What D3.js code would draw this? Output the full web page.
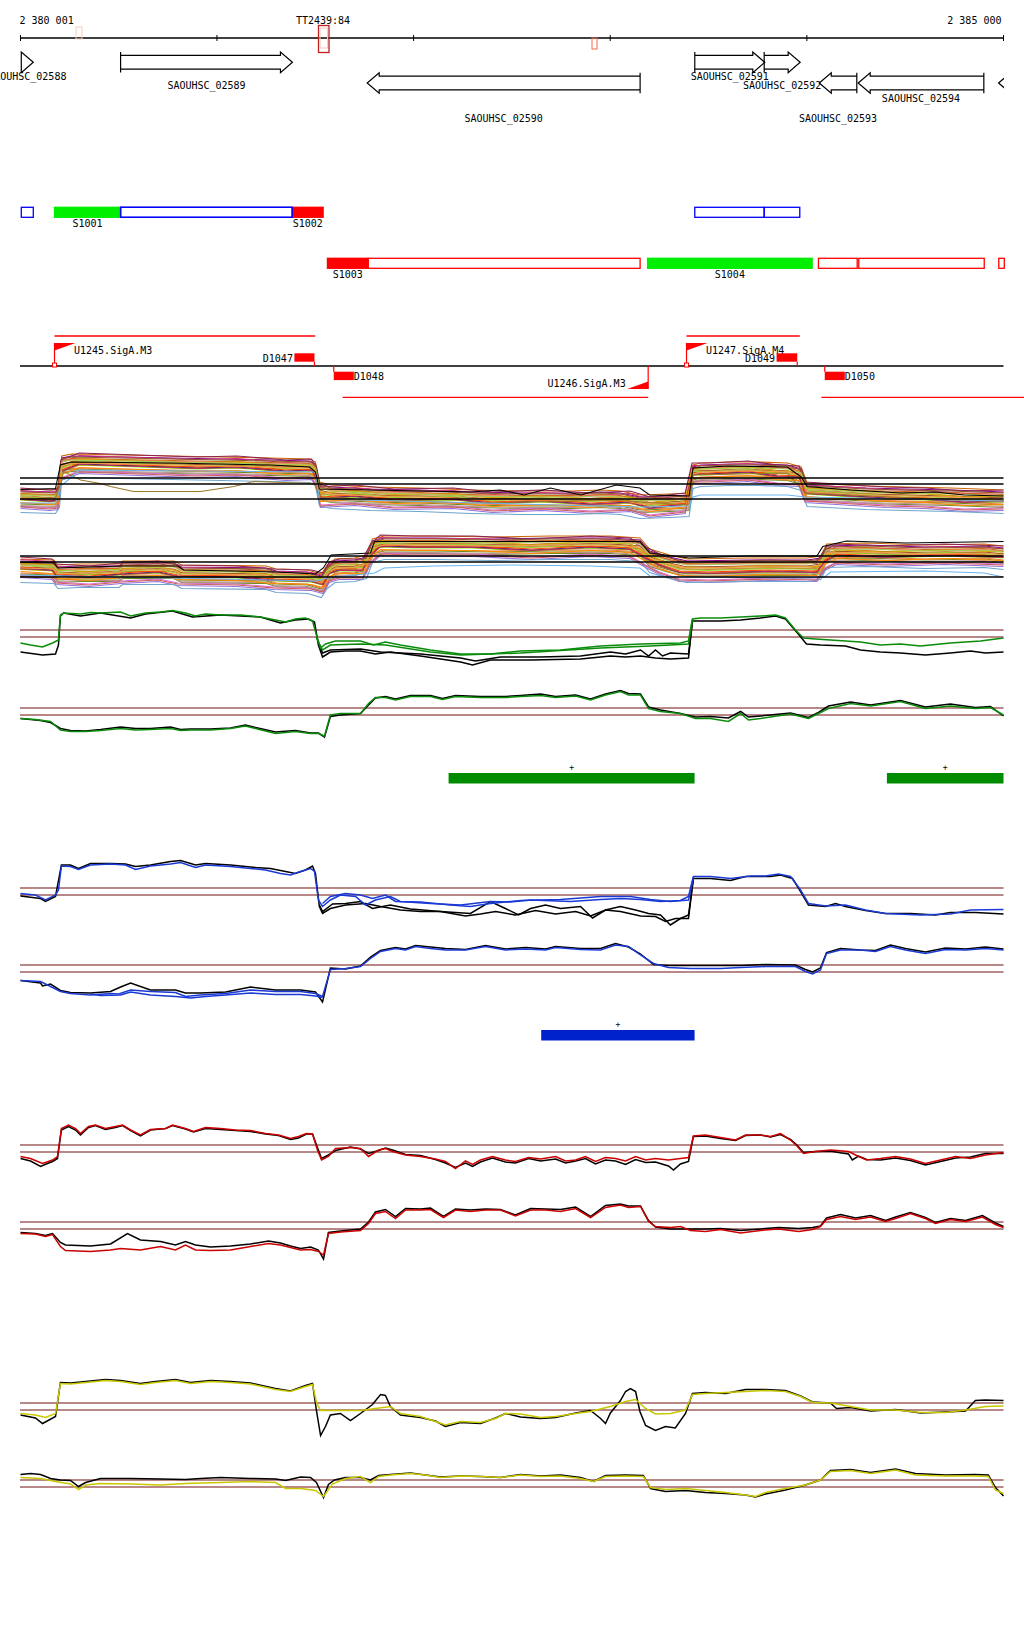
<!DOCTYPE html>
<html>
<head>
<meta charset="utf-8">
<script src="https://cdn.jsdelivr.net/npm/d3@7"></script>
<style>
body { margin: 0; background: #fff; }
text { font-family: "DejaVu Sans Mono", monospace; font-size: 10px; fill: #000; }
</style>
</head>
<body>
<svg id="chart" width="1024" height="1640"></svg>
<script>
// window shown: 2 380 001 .. 2 385 000, positions below are bp from window start
var START = 2380001, END = 2385000;
var axisTicks = [0, 999, 1999, 2999, 3999, 4999];

var genes = [
    { name: "SAOUHSC_02588", start: 4, end: 65, strand: 1 },
    { name: "SAOUHSC_02589", start: 509, end: 1383, strand: 1 },
    { name: "SAOUHSC_02590", start: 1763, end: 3151, strand: -1 },
    { name: "SAOUHSC_02591", start: 3429, end: 3785, strand: 1 },
    { name: "SAOUHSC_02592", start: 3782, end: 3965, strand: 1 },
    { name: "SAOUHSC_02593", start: 4062, end: 4253, strand: -1 },
    { name: "SAOUHSC_02594", start: 4260, end: 4899, strand: -1 },
    { name: "SAOUHSC_02595", start: 4974, end: 5300, strand: -1 }
];

var segmentsPlus = [
    [4, 65, ""], [173, 509, "up", "S1001"], [509, 1382, ""], [1382, 1539, "down", "S1002"],
    [3429, 3782, ""], [3782, 3963, ""]
];
var segmentsMinus = [
    [1561, 1768, "down", "S1003"], [1768, 3151, ""], [3189, 4026, "up", "S1004"],
    [4058, 4255, ""], [4263, 4901, ""], [4975, 5003, ""]
];

var promoters = [
    { name: "U1245.SigA.M3", pos: 173, strand: 1 },
    { name: "U1246.SigA.M3", pos: 3192, strand: -1 },
    { name: "U1247.SigA.M4", pos: 3387, strand: 1 }
];
var terminators = [
    { name: "D1047", start: 1393, end: 1495, strand: 1 },
    { name: "D1048", start: 1593, end: 1695, strand: -1 },
    { name: "D1049", start: 3845, end: 3950, strand: 1 },
    { name: "D1050", start: 4090, end: 4192, strand: -1 }
];
var transcripts = [
    { start: 173, end: 1499, strand: 1 }, { start: 3387, end: 3963, strand: 1 },
    { start: 1638, end: 3192, strand: -1 }, { start: 4073, end: 5106, strand: -1 }
];

// expression panels (many conditions): shared shape + each condition's level
var exprThresholds = [6.4, 5.2, 2.2];
var exprColors = ["#cd6600", "#7cfc00", "#8b008b", "#ff7f24", "#6b8e23", "#cd3278", "#b8860b", "#9370db",
    "#ff6a6a", "#cd853f", "#698b22", "#191970", "#d2691e", "#da70d6", "#a0522d", "#9acd32",
    "#ee7942", "#8b2252", "#bc8f8f", "#cdad00", "#6ca6cd", "#ff4500", "#8b5a2b", "#b03060",
    "#ee9a49", "#cd5c5c", "#a2cd5a", "#ff8c00"];
var exprLevels = [2.2, -0.4, 1.8, 0.9, -1.3, 1.5, 0.1, -2.1, 1.1, 0.5, -0.8, -0.2, 1.3, -1.6,
    0.6, 0.3, -0.6, 2.0, -1.1, 0.8, -2.5, 0.0, 1.6, -0.3, 0.4, -1.8, 1.0, -0.9];
var plusShape1 = [[0,2.0],[178,1.8],[198,3.0],[210,8.6],[260,9.0],[510,8.8],[770,8.6],[1020,8.4],[1270,8.2],[1470,8.0],[1500,7.4],[1520,3.4],[1580,2.8],[1780,2.4],[2030,2.2],[2290,1.8],[2540,1.6],[2800,1.6],[2950,1.8],[3050,1.6],[3150,0.8],[3300,1.0],[3400,1.2],[3420,6.8],[3460,7.2],[3610,7.4],[3760,7.4],[3900,7.2],[3970,6.4],[4000,3.2],[4100,3.0],[4300,2.6],[4500,2.4],[4730,2.2],[4870,2.0],[4999,1.8]];
var plusShape2 = [[0,2.4],[150,2.0],[190,2.2],[205,8.0],[300,9.4],[600,9.0],[900,8.6],[1100,8.8],[1350,8.0],[1480,8.2],[1505,6.6],[1525,2.6],[1700,3.0],[1900,2.2],[2200,2.4],[2400,1.6],[2650,2.0],[2900,1.4],[3100,1.8],[3200,0.6],[3380,1.4],[3415,7.4],[3500,7.4],[3700,7.8],[3850,7.0],[3960,6.8],[3990,3.6],[4150,3.2],[4400,2.6],[4600,2.4],[4800,1.8],[4999,2.0]];
var plusOlive = [[0,2.2],[178,2.4],[203,5.0],[219,7.7],[305,6.0],[407,5.3],[458,4.7],[575,3.7],[915,3.7],[1085,4.7],[1185,5.7],[1495,5.3],[1520,2.6],[1700,2.2],[2300,1.4],[3000,2.0],[3400,1.0],[3420,7.0],[3900,7.4],[3990,3.4],[4999,1.6]];
var plusBlack = [[0,4.1],[178,4.3],[203,9.0],[260,9.6],[760,9.4],[1270,9.0],[1470,8.6],[1500,7.6],[1520,4.2],[1780,4.0],[2290,3.6],[2440,4.0],[2540,3.2],[2560,3.0],[2695,4.4],[2850,3.0],[3030,5.0],[3150,4.4],[3200,3.0],[3400,2.8],[3420,8.4],[3600,8.8],[3900,8.6],[3970,6.6],[4000,4.7],[4220,4.0],[4480,3.4],[4650,3.6],[4800,3.0],[4999,2.8]];
var plusLightBlue = [[0,1.4],[178,1.4],[205,4.8],[260,6.6],[300,8.0],[1500,7.6],[1520,2.2],[3150,0.6],[3400,0.8],[3420,2.6],[3460,3.0],[3900,3.0],[3990,2.6],[4999,1.8]];
var minusShape1 = [[0,3.6],[170,3.4],[190,2.4],[300,2.6],[500,2.6],[520,3.2],[780,3.2],[820,2.4],[1250,2.2],[1300,1.6],[1460,1.4],[1530,0.6],[1560,2.4],[1600,3.6],[1700,3.8],[1760,4.4],[1790,7.6],[1850,8.2],[2100,8.2],[2400,8.0],[2700,8.2],[3000,8.2],[3150,7.8],[3200,5.6],[3300,4.4],[3390,3.6],[3700,3.8],[4000,3.8],[4070,4.2],[4100,6.6],[4300,6.8],[4600,6.4],[4900,6.6],[4999,6.2]];
var minusShape2 = [[0,4.2],[160,3.8],[180,2.8],[350,2.4],[510,3.0],[700,3.4],[800,2.6],[1100,2.4],[1290,1.8],[1480,1.6],[1540,1.0],[1570,3.2],[1620,3.8],[1740,3.8],[1780,6.8],[1830,8.6],[2000,8.4],[2300,8.4],[2600,7.8],[2900,8.4],[3100,8.0],[3180,6.2],[3250,4.8],[3350,3.4],[3500,3.2],[3800,3.6],[4050,3.4],[4090,5.6],[4150,6.8],[4400,6.4],[4700,6.8],[4999,6.4]];
var minusLightBlue = [[0,2.6],[1500,1.4],[1560,2.0],[1800,3.0],[1850,4.0],[2100,4.4],[2500,4.6],[2900,4.4],[3150,4.0],[3200,2.4],[3400,2.2],[4000,2.0],[4090,2.2],[4120,3.2],[4600,3.4],[4900,3.0],[4999,2.2]];
var minusBlack = [[0,5.1],[170,5.0],[190,4.0],[510,4.4],[800,4.4],[830,3.6],[1300,3.2],[1500,2.8],[1540,4.0],[1580,6.6],[1780,7.0],[1800,9.3],[3150,9.3],[3200,7.0],[3400,6.0],[3700,6.4],[4050,6.4],[4080,8.3],[4200,9.4],[4500,9.0],[4999,9.3]];

// tiling panels: coloured = this study, black = reference replicates
var tilingThresholds = [8.0, 6.6];
var greenPlus = [[0,5.4],[51,5.0],[112,4.6],[163,5.4],[193,6.0],[203,11.0],[219,11.4],[305,11.2],[356,11.5],[407,11.4],[509,11.6],[560,10.8],[636,11.4],[712,11.6],[773,11.9],[839,11.4],[890,10.8],[941,11.2],[1017,11.0],[1119,11.0],[1220,10.6],[1297,10.0],[1348,9.6],[1398,10.2],[1449,10.4],[1485,9.8],[1505,7.0],[1526,4.4],[1551,5.2],[1602,5.8],[1729,5.8],[1795,5.0],[1856,5.6],[1932,5.0],[2085,4.0],[2238,3.2],[2390,3.2],[2543,3.8],[2746,4.0],[2950,4.8],[3153,5.2],[3356,5.4],[3397,5.8],[3417,10.2],[3458,10.4],[3560,10.4],[3662,10.6],[3763,10.8],[3840,11.0],[3890,10.4],[3941,8.0],[3982,6.4],[4043,6.2],[4119,6.0],[4272,5.6],[4373,5.0],[4475,5.2],[4577,4.8],[4729,5.4],[4882,5.8],[4999,6.4]];
var greenPlus2 = [[1505,6.4],[1536,4.0],[1576,5.0],[1729,5.2],[1856,5.0],[2085,3.6],[2238,3.0],[2543,3.4],[2950,4.4],[3204,4.8],[3397,5.2],[3417,10.0]];
var greenPlusRef = [[0,3.6],[112,3.0],[178,3.2],[193,5.0],[203,10.8],[219,11.4],[305,10.8],[407,11.4],[560,10.4],[636,11.2],[773,11.8],[875,10.6],[1017,11.0],[1220,10.6],[1322,9.4],[1398,10.0],[1465,10.2],[1495,9.6],[1515,5.0],[1536,2.6],[1576,3.6],[1653,3.8],[1729,3.8],[1805,3.2],[1881,3.6],[2034,2.8],[2238,1.6],[2299,1.0],[2390,2.0],[2594,2.0],[2848,2.2],[3000,2.8],[3077,2.6],[3153,2.8],[3229,2.4],[3305,2.2],[3397,2.4],[3417,9.8],[3458,9.8],[3560,9.8],[3662,10.0],[3763,10.4],[3840,10.8],[3890,10.2],[3951,7.4],[3997,5.2],[4068,5.0],[4195,4.8],[4272,4.0],[4373,3.6],[4475,3.4],[4602,3.0],[4729,3.4],[4831,3.8],[4907,3.4],[4999,3.6]];
var greenPlusRef2 = [[1515,5.4],[1536,3.4],[1576,4.0],[1729,4.2],[1831,3.6],[2034,3.2],[2238,2.4],[2314,1.8],[2441,2.6],[2645,2.6],[2848,2.8],[3000,3.6],[3077,3.2],[3153,4.0],[3194,2.8],[3229,4.0],[3265,2.8],[3305,3.4],[3397,3.2],[3417,9.6]];
var greenMinus = [[0,5.9],[76,5.7],[153,5.3],[203,3.6],[254,3.3],[331,3.3],[407,3.5],[509,3.9],[585,3.6],[661,3.7],[763,3.9],[814,3.5],[865,3.6],[966,3.6],[1068,3.9],[1144,4.4],[1195,3.9],[1297,2.9],[1398,3.3],[1475,2.9],[1515,2.9],[1546,2.4],[1576,6.6],[1627,6.9],[1729,6.9],[1770,8.9],[1805,10.1],[1856,10.1],[1907,9.6],[1983,10.3],[2085,10.3],[2146,9.7],[2212,10.3],[2339,10.1],[2466,10.1],[2543,10.3],[2645,10.5],[2721,10.1],[2823,10.4],[2899,9.6],[2975,10.6],[3051,11.3],[3092,10.6],[3153,10.6],[3194,7.9],[3255,7.3],[3356,6.9],[3433,5.9],[3509,5.9],[3600,5.3],[3662,6.9],[3702,5.6],[3763,5.9],[3916,6.8],[4007,5.9],[4058,6.9],[4109,7.9],[4221,8.9],[4323,8.4],[4475,9.3],[4602,7.9],[4729,8.4],[4856,7.9],[4933,8.1],[4999,6.6]];
var greenMinusRef = [[0,5.9],[102,5.5],[153,5.1],[203,3.9],[254,3.5],[331,3.4],[407,3.7],[509,4.2],[585,3.9],[661,3.9],[763,4.2],[814,3.7],[865,3.8],[966,3.8],[1068,4.0],[1144,4.6],[1195,4.1],[1297,3.2],[1398,3.5],[1475,3.0],[1515,3.0],[1546,2.2],[1576,6.3],[1627,6.6],[1729,6.9],[1770,8.6],[1805,10.0],[1856,10.3],[1907,9.8],[1983,10.5],[2085,10.5],[2146,9.9],[2212,10.5],[2339,10.3],[2466,10.3],[2543,10.5],[2645,10.8],[2721,10.3],[2823,10.6],[2899,9.8],[2975,10.8],[3051,11.5],[3092,10.9],[3153,10.8],[3194,8.2],[3255,7.6],[3356,6.9],[3433,6.2],[3509,6.3],[3600,6.0],[3662,7.3],[3702,6.2],[3763,6.4],[3916,7.0],[4007,6.1],[4058,7.1],[4109,8.4],[4221,9.2],[4323,8.6],[4475,9.5],[4602,8.2],[4729,8.8],[4856,8.1],[4933,8.3],[4999,6.4]];

var bluePlus = [[0,6.9],[76,6.6],[127,5.6],[178,6.6],[193,7.6],[208,12.4],[254,12.3],[295,11.7],[356,12.6],[458,12.8],[534,12.6],[585,11.7],[661,12.4],[763,12.8],[814,13.1],[890,12.1],[941,12.6],[1068,12.3],[1170,11.9],[1246,11.6],[1322,10.9],[1373,10.6],[1424,11.3],[1475,11.9],[1495,11.3],[1515,5.6],[1536,4.3],[1576,5.6],[1627,6.6],[1704,6.3],[1755,4.6],[1805,5.6],[1881,6.3],[1932,5.3],[2085,4.9],[2238,4.6],[2390,5.3],[2492,5.2],[2594,5.6],[2797,5.3],[2950,5.7],[3051,5.9],[3153,5.7],[3255,5.3],[3356,5.5],[3397,6.3],[3422,10.3],[3509,10.3],[3611,9.9],[3712,10.4],[3789,10.4],[3855,10.8],[3916,10.3],[3967,7.6],[4007,4.9],[4094,4.4],[4195,4.6],[4297,3.6],[4399,2.9],[4577,2.6],[4729,2.8],[4831,3.6],[4999,3.7]];
var bluePlus2 = [[1536,4.9],[1576,6.3],[1653,6.9],[1729,6.6],[1790,5.9],[1856,6.6],[1907,5.3],[2034,5.2],[2187,4.6],[2288,4.3],[2390,4.9],[2543,5.5],[2746,5.7],[2950,6.3],[3102,6.3],[3204,5.7],[3305,5.3],[3397,5.6],[3422,10.1]];
var bluePlusRef = [[0,6.4],[102,5.9],[127,5.3],[178,6.3],[208,12.6],[254,12.6],[295,11.9],[356,12.9],[458,12.9],[534,12.8],[585,12.3],[661,12.6],[763,13.3],[814,13.5],[890,12.6],[941,12.9],[1068,12.6],[1195,12.1],[1271,11.9],[1348,11.3],[1398,10.9],[1449,11.6],[1485,12.4],[1500,10.9],[1520,4.3],[1536,2.9],[1576,3.9],[1653,4.6],[1755,4.9],[1831,4.3],[1932,3.6],[2034,3.3],[2136,3.3],[2263,2.4],[2339,2.8],[2416,3.3],[2517,2.6],[2619,3.5],[2721,2.8],[2823,3.3],[2899,2.4],[2975,3.6],[3051,3.3],[3153,2.4],[3229,2.3],[3280,1.3],[3331,1.9],[3397,1.9],[3422,9.9],[3509,9.9],[3611,9.5],[3687,10.3],[3814,10.3],[3865,10.6],[3926,9.9],[3967,7.3],[4007,4.6],[4094,4.3],[4145,4.9],[4195,4.3],[4297,3.5],[4399,2.9],[4526,2.9],[4653,2.6],[4729,3.1],[4856,3.1],[4999,2.8]];
var bluePlusRef2 = [[1520,4.6],[1536,3.3],[1587,4.8],[1653,4.9],[1729,5.3],[1790,3.9],[1881,4.6],[1983,3.8],[2136,3.3],[2288,2.9],[2390,5.3],[2466,3.9],[2533,2.6],[2594,3.9],[2670,4.6],[2746,3.9],[2848,4.3],[2909,2.0],[2975,3.6],[3051,4.3],[3128,3.6],[3194,2.9],[3255,2.6],[3305,0.6],[3356,1.9],[3397,2.6],[3422,9.9]];
var blueMinus = [[0,4.9],[102,4.7],[153,3.7],[203,2.7],[254,2.3],[356,2.0],[458,2.3],[499,2.2],[560,3.0],[661,2.7],[788,2.5],[839,1.7],[915,2.0],[1043,2.3],[1170,3.0],[1297,2.7],[1424,2.7],[1500,2.3],[1536,1.7],[1576,7.1],[1653,7.3],[1729,7.7],[1780,9.3],[1831,10.7],[1907,11.3],[1958,11.0],[2009,11.7],[2085,11.3],[2161,11.0],[2263,11.0],[2365,11.7],[2466,11.0],[2568,11.2],[2670,11.0],[2721,11.5],[2848,11.1],[2950,11.0],[3026,12.0],[3092,11.7],[3153,10.0],[3219,8.3],[3295,7.5],[3407,7.3],[3560,7.3],[3662,7.5],[3789,7.7],[3941,7.7],[3992,6.7],[4028,6.2],[4068,7.0],[4099,10.3],[4170,11.0],[4272,11.0],[4348,10.7],[4424,11.7],[4500,11.0],[4602,10.3],[4704,11.1],[4806,11.0],[4907,11.3],[4999,11.0]];
var blueMinus2 = [[356,2.2],[407,1.9],[509,2.0],[560,2.6],[661,2.0],[788,1.7],[865,1.4],[941,1.7],[1043,2.0],[1170,2.4],[1297,2.1],[1424,2.1],[1500,1.8],[1536,1.5]];
var blueMinusRef = [[0,4.9],[102,4.4],[112,3.8],[153,4.2],[203,2.9],[254,2.5],[356,2.4],[458,2.7],[509,3.6],[560,4.4],[661,3.0],[788,3.0],[839,2.4],[915,2.4],[1043,2.6],[1170,3.6],[1297,3.0],[1424,3.0],[1500,2.6],[1536,0.6],[1576,7.4],[1653,7.2],[1729,7.8],[1780,9.6],[1831,10.9],[1907,11.5],[1958,11.2],[2009,11.9],[2085,11.6],[2161,11.3],[2263,11.1],[2365,11.9],[2466,11.2],[2568,11.5],[2670,11.2],[2721,11.7],[2848,11.3],[2950,11.3],[3026,12.3],[3092,11.6],[3153,10.2],[3219,8.1],[3295,7.9],[3407,7.9],[3560,7.9],[3662,7.9],[3789,8.1],[3941,8.0],[3992,7.1],[4028,6.6],[4068,7.4],[4099,10.5],[4170,11.3],[4272,11.0],[4348,10.9],[4424,12.0],[4500,11.3],[4602,10.6],[4704,11.4],[4806,11.2],[4907,11.6],[4999,11.2]];

var redPlus = [[0,5.7],[51,5.3],[112,4.3],[163,5.0],[188,5.7],[208,11.3],[244,12.0],[280,11.3],[305,10.3],[346,11.7],[381,12.0],[432,11.3],[483,11.7],[519,12.0],[560,11.0],[610,10.0],[661,11.1],[738,11.3],[773,12.0],[839,11.3],[880,10.7],[941,11.5],[1017,11.3],[1093,11.0],[1170,10.9],[1246,10.3],[1312,10.0],[1373,9.3],[1414,9.7],[1454,10.3],[1485,10.2],[1510,7.0],[1531,5.0],[1566,5.7],[1602,7.3],[1678,7.5],[1729,7.3],[1770,5.7],[1821,7.0],[1856,7.3],[1892,6.7],[1958,6.0],[2034,5.7],[2110,5.2],[2161,4.7],[2212,3.3],[2263,4.8],[2299,4.1],[2339,5.0],[2400,5.7],[2466,5.0],[2517,4.7],[2584,5.5],[2645,5.2],[2721,5.7],[2772,4.8],[2823,5.0],[2873,5.7],[2924,4.7],[2975,5.5],[3026,5.3],[3077,4.8],[3128,5.7],[3179,5.0],[3229,5.3],[3295,5.0],[3356,5.3],[3397,5.5],[3422,9.8],[3483,10.0],[3560,9.5],[3636,9.0],[3687,10.0],[3763,10.0],[3814,9.7],[3865,10.3],[3916,9.0],[3951,7.7],[3982,6.3],[4043,6.7],[4119,7.0],[4211,6.7],[4262,5.7],[4303,5.0],[4373,5.3],[4450,5.7],[4526,5.2],[4602,4.3],[4679,5.0],[4755,5.7],[4831,5.3],[4907,6.0],[4999,6.5]];
var redPlusRef = [[0,5.3],[51,4.8],[102,3.7],[137,4.3],[163,4.7],[188,5.3],[208,11.0],[244,11.7],[280,11.0],[305,10.0],[346,11.5],[381,11.9],[432,11.1],[483,11.5],[519,11.9],[560,10.9],[610,9.8],[661,11.0],[738,11.3],[773,11.9],[839,11.2],[880,10.6],[941,11.3],[1017,11.1],[1093,10.9],[1170,10.7],[1246,10.2],[1312,9.9],[1373,9.1],[1414,9.4],[1454,10.2],[1485,10.2],[1510,7.5],[1531,5.3],[1566,6.0],[1602,6.9],[1678,7.6],[1729,7.2],[1770,6.3],[1821,6.9],[1856,7.4],[1892,7.0],[1958,6.1],[2034,5.9],[2110,5.1],[2161,4.4],[2212,3.5],[2263,4.4],[2299,3.7],[2339,4.6],[2400,5.4],[2466,4.6],[2517,4.4],[2584,5.3],[2645,4.8],[2721,5.2],[2772,4.4],[2823,4.8],[2873,5.3],[2924,4.2],[2975,5.0],[3026,4.8],[3077,4.1],[3128,5.1],[3179,4.5],[3229,4.6],[3295,3.8],[3321,3.0],[3356,4.2],[3397,4.7],[3422,9.7],[3483,9.8],[3560,9.3],[3636,8.9],[3687,9.9],[3763,10.0],[3814,9.6],[3865,10.1],[3916,9.1],[3951,7.9],[3982,6.5],[4043,6.7],[4119,6.8],[4175,6.4],[4211,6.2],[4230,5.0],[4262,5.8],[4303,5.1],[4373,5.0],[4450,5.4],[4526,4.9],[4602,4.0],[4679,4.7],[4755,5.4],[4831,5.6],[4907,6.3],[4999,6.3]];
var redMinus = [[0,5.7],[76,5.6],[127,5.1],[163,5.5],[203,3.1],[229,2.3],[356,2.1],[458,2.4],[509,2.7],[610,2.4],[712,3.1],[788,2.4],[839,3.4],[890,2.4],[966,2.3],[1068,2.4],[1170,3.1],[1261,3.7],[1322,3.4],[1373,2.9],[1424,2.4],[1475,2.5],[1515,2.1],[1541,1.4],[1566,5.7],[1627,6.0],[1729,6.3],[1770,7.7],[1805,9.7],[1856,10.1],[1907,8.7],[1958,10.4],[2034,10.4],[2085,10.5],[2151,8.9],[2212,10.4],[2288,10.1],[2365,10.4],[2441,10.4],[2517,9.2],[2594,10.4],[2670,10.4],[2746,10.1],[2823,10.7],[2899,8.9],[2975,10.9],[3051,11.4],[3092,10.9],[3153,11.1],[3194,8.1],[3229,7.1],[3305,6.9],[3356,7.1],[3407,6.3],[3483,6.1],[3560,6.5],[3662,5.8],[3763,6.3],[3855,6.6],[3957,6.1],[4028,6.5],[4068,7.1],[4099,8.5],[4170,9.1],[4247,8.5],[4323,9.0],[4399,8.1],[4450,8.7],[4526,9.7],[4602,8.7],[4653,7.7],[4729,8.5],[4806,8.1],[4892,9.0],[4958,7.5],[4999,6.9]];
var redMinusRef = [[0,5.9],[76,5.7],[127,5.3],[163,5.7],[203,3.9],[229,3.4],[356,3.2],[458,3.6],[544,5.7],[610,4.4],[712,4.1],[788,3.4],[839,4.1],[890,3.4],[966,3.0],[1068,3.2],[1170,3.6],[1261,4.2],[1322,3.8],[1373,3.2],[1424,2.7],[1475,3.0],[1515,2.4],[1541,0.6],[1566,5.9],[1627,6.2],[1729,6.6],[1770,8.0],[1805,10.0],[1856,10.5],[1907,9.1],[1958,10.7],[2034,10.6],[2085,10.8],[2151,9.1],[2212,10.6],[2288,10.4],[2365,10.6],[2441,10.5],[2517,9.4],[2594,10.7],[2670,10.6],[2746,10.5],[2823,11.0],[2899,9.1],[2975,11.3],[3051,11.6],[3092,11.2],[3153,11.2],[3194,8.3],[3229,7.0],[3305,6.6],[3356,6.6],[3407,6.6],[3483,6.6],[3560,6.7],[3662,6.3],[3763,6.6],[3855,6.9],[3957,6.7],[4028,6.9],[4068,7.2],[4099,8.8],[4170,9.5],[4247,8.8],[4323,9.3],[4399,8.3],[4450,9.0],[4526,9.9],[4602,8.9],[4653,7.9],[4729,8.7],[4806,8.3],[4892,9.3],[4958,7.8],[4999,7.1]];

var yellowPlus = [[0,5.9],[76,5.6],[127,5.1],[178,5.9],[203,11.9],[254,11.8],[331,12.1],[432,12.5],[509,12.3],[610,11.7],[687,12.1],[788,12.5],[865,11.9],[966,12.3],[1068,12.1],[1170,11.8],[1297,10.7],[1373,10.3],[1449,11.3],[1485,11.7],[1505,8.1],[1526,6.5],[1627,6.5],[1729,6.5],[1805,6.9],[1881,7.3],[1932,5.9],[2034,5.3],[2110,4.3],[2161,3.6],[2238,4.3],[2339,4.1],[2416,4.9],[2466,5.9],[2543,5.8],[2645,5.1],[2721,5.3],[2823,5.9],[2899,6.3],[3000,7.3],[3077,8.3],[3128,8.7],[3179,6.9],[3229,5.8],[3305,5.9],[3382,6.6],[3417,9.7],[3483,9.9],[3585,10.1],[3687,10.3],[3789,10.5],[3890,10.3],[3967,9.3],[4028,8.1],[4119,8.0],[4221,7.3],[4323,6.6],[4450,6.6],[4577,6.1],[4704,6.1],[4806,6.6],[4907,7.3],[4999,7.4]];
var yellowPlusRef = [[0,5.6],[76,5.0],[112,3.9],[178,5.3],[203,12.1],[254,12.0],[331,12.3],[432,12.7],[509,12.5],[610,11.9],[687,12.3],[788,12.7],[865,12.1],[966,12.5],[1068,12.3],[1170,12.0],[1297,10.9],[1373,10.4],[1449,11.5],[1485,11.9],[1505,6.5],[1526,1.5],[1551,3.3],[1576,5.6],[1627,5.9],[1678,4.5],[1729,5.9],[1790,7.7],[1831,9.7],[1856,9.5],[1881,7.3],[1932,5.6],[2034,5.1],[2110,4.4],[2161,3.3],[2238,4.1],[2339,3.9],[2416,5.0],[2466,5.9],[2543,5.2],[2645,4.9],[2721,5.1],[2823,6.0],[2899,6.5],[2950,4.9],[2975,3.9],[3000,6.0],[3051,8.5],[3077,10.3],[3102,10.9],[3128,10.3],[3150,6.3],[3179,3.5],[3229,2.5],[3280,3.3],[3330,3.0],[3382,5.9],[3417,9.9],[3483,10.1],[3585,9.9],[3687,10.7],[3789,10.7],[3890,10.5],[3967,9.4],[4028,8.2],[4119,8.0],[4150,6.9],[4221,7.1],[4323,6.4],[4450,6.7],[4577,6.0],[4704,6.2],[4806,6.4],[4856,8.5],[4907,8.6],[4999,8.5]];
var yellowMinus = [[0,8.5],[102,8.3],[178,7.7],[254,7.2],[295,6.1],[331,7.0],[407,7.3],[560,7.2],[712,7.0],[839,7.3],[1017,7.5],[1170,7.7],[1297,7.5],[1348,6.3],[1424,6.3],[1500,5.9],[1541,4.7],[1586,7.2],[1653,8.3],[1729,8.7],[1780,7.5],[1821,8.7],[1881,9.0],[1983,9.3],[2060,9.0],[2136,8.5],[2238,8.8],[2339,8.7],[2441,8.5],[2543,9.0],[2645,8.7],[2746,8.8],[2848,8.3],[2914,7.7],[2975,8.7],[3077,8.8],[3168,8.7],[3204,6.5],[3280,6.1],[3382,6.3],[3483,5.9],[3585,5.5],[3687,5.0],[3738,4.7],[3789,5.5],[3890,6.3],[3992,7.0],[4068,8.0],[4119,9.7],[4221,9.9],[4323,9.3],[4450,10.0],[4551,9.0],[4704,8.8],[4856,8.8],[4922,8.7],[4958,6.0],[4999,5.3]];
var yellowMinusRef = [[0,9.1],[51,9.3],[102,9.1],[153,8.3],[203,8.0],[254,7.9],[295,6.7],[331,7.5],[407,8.3],[560,8.3],[712,8.2],[839,8.1],[915,8.3],[1017,8.5],[1170,8.3],[1297,8.2],[1348,7.9],[1424,8.6],[1475,8.5],[1505,7.5],[1541,4.5],[1566,7.1],[1597,8.0],[1653,8.5],[1729,8.5],[1780,8.0],[1821,8.9],[1881,9.1],[1983,9.4],[2060,9.0],[2136,8.6],[2238,8.8],[2339,8.7],[2441,8.5],[2543,9.1],[2645,8.8],[2746,9.0],[2848,8.5],[2914,7.7],[2975,8.9],[3077,9.0],[3168,8.9],[3204,6.3],[3280,5.7],[3382,5.9],[3483,5.5],[3585,5.3],[3687,5.0],[3738,4.6],[3789,5.2],[3890,6.0],[3992,7.0],[4068,8.0],[4119,9.9],[4221,10.1],[4323,9.5],[4450,10.2],[4551,9.3],[4704,9.0],[4856,9.1],[4922,9.0],[4958,6.5],[4999,4.8]];

var greenCalls = [[2177, 3428, "+"], [4406, 4999, "+"]];
var blueCalls = [[2648, 3428, "+"]];

// ---------------------------------------------------------------
var svg = d3.select("#chart");
var x = d3.scaleLinear().domain([0, END - START]).range([20.5, 1003.5]);
var X0 = 20, X1 = 1003.5;
var fmt = function(v) { return d3.format(",")(v).replace(/,/g, " "); };

svg.append("defs").append("clipPath").attr("id", "win")
    .append("rect").attr("x", X0).attr("y", 0).attr("width", X1 - X0 + 0.5).attr("height", 1640);

// top axis
svg.append("line").attr("x1", X0).attr("x2", X1).attr("y1", 38).attr("y2", 38)
    .attr("stroke", "#000").attr("stroke-width", 1.3);
svg.selectAll(".tick").data(axisTicks).enter().append("line")
    .attr("x1", d => x(d)).attr("x2", d => x(d)).attr("y1", 35).attr("y2", 41)
    .attr("stroke", "#000");
svg.append("text").attr("x", x(0) - 1).attr("y", 24).text(fmt(START));
svg.append("text").attr("x", x(END - START) - 2).attr("y", 24).attr("text-anchor", "end").text(fmt(END));

// terminator hits on the axis
svg.append("rect").attr("x", 76).attr("y", 27).attr("width", 6).attr("height", 12)
    .attr("fill", "none").attr("stroke", "#f6cdb8");
svg.append("rect").attr("x", 318.5).attr("y", 25.5).attr("width", 10.5).attr("height", 27)
    .attr("fill", "none").attr("stroke", "#c02020").attr("stroke-width", 1.3);
svg.append("rect").attr("x", 320).attr("y", 28).attr("width", 7.5).attr("height", 20)
    .attr("fill", "none").attr("stroke", "#f9c9b9");
svg.append("rect").attr("x", 592).attr("y", 38).attr("width", 5).attr("height", 11)
    .attr("fill", "none").attr("stroke", "#f06a4a");
svg.append("text").attr("x", 323).attr("y", 24).attr("text-anchor", "middle").text("TT2439:84");

// genes
var geneLabelRow = { "SAOUHSC_02588": 80, "SAOUHSC_02589": 88.5, "SAOUHSC_02590": 121.5, "SAOUHSC_02591": 80,
    "SAOUHSC_02592": 89, "SAOUHSC_02593": 121.5, "SAOUHSC_02594": 101.5 };
var geneG = svg.append("g").attr("clip-path", "url(#win)");
genes.forEach(function(g) {
    var top = g.strand > 0 ? 52 : 72.7, h = 20.6, a = top + 3.4, b = top + h - 3.4, mid = top + h / 2, head = 12;
    var p, x0 = x(g.start), x1 = x(g.end), xh;
    if (g.strand > 0) {
        xh = Math.max(x0, x1 - head);
        p = "M" + x0 + "," + top + "V" + (top + h) + "M" + x0 + "," + a + "H" + xh + "V" + top + "L" + x1 + "," + mid +
            "L" + xh + "," + (top + h) + "V" + b + "H" + x0;
    } else {
        xh = Math.min(x1, x0 + head);
        p = "M" + x1 + "," + top + "V" + (top + h) + "M" + x1 + "," + a + "H" + xh + "V" + top + "L" + x0 + "," + mid +
            "L" + xh + "," + (top + h) + "V" + b + "H" + x1;
    }
    geneG.append("path").attr("d", p).attr("fill", "none").attr("stroke", "#000").attr("stroke-width", 1.2);
    if (geneLabelRow[g.name]) {
        var cx = (Math.max(x0, X0) + Math.min(x1, X1)) / 2;
        svg.append("text").attr("x", cx).attr("y", geneLabelRow[g.name]).attr("text-anchor", "middle").text(g.name);
    }
});

// segmentation rows
function drawSegments(data, y0, outline) {
    data.forEach(function(s) {
        var fill = s[2] === "up" ? "#00ee00" : s[2] === "down" ? "#ff0000" : "none";
        svg.append("rect").attr("x", x(s[0])).attr("y", y0).attr("width", x(s[1]) - x(s[0])).attr("height", 10)
            .attr("fill", fill).attr("stroke", fill === "none" ? outline : fill).attr("stroke-width", 1.3);
        if (s[3]) svg.append("text").attr("x", (x(s[0]) + x(s[1])) / 2).attr("y", y0 + 19.5)
            .attr("text-anchor", "middle").text(s[3]);
    });
}
drawSegments(segmentsPlus, 207.3, "#0000ff");
drawSegments(segmentsMinus, 258.3, "#ff0000");
// redraw blue border that touches the filled pieces
svg.append("rect").attr("x", x(509)).attr("y", 207.3).attr("width", x(1382) - x(509)).attr("height", 10)
    .attr("fill", "none").attr("stroke", "#0000ff").attr("stroke-width", 1.3);

// promoters / terminators
var mid = 366, red = "#ff0000";
svg.append("line").attr("x1", X0).attr("x2", X1).attr("y1", mid).attr("y2", mid).attr("stroke", "#000").attr("stroke-width", 1.3);
transcripts.forEach(function(t) {
    var yy = t.strand > 0 ? 336 : 397.3;
    svg.append("line").attr("x1", x(t.start)).attr("x2", x(t.end)).attr("y1", yy).attr("y2", yy)
        .attr("stroke", red).attr("stroke-width", 1.3);
});
promoters.forEach(function(p) {
    var px = x(p.pos), s = p.strand;
    var tip = s > 0 ? mid - 23 : mid + 23;
    svg.append("line").attr("x1", px).attr("x2", px).attr("y1", mid).attr("y2", tip).attr("stroke", red).attr("stroke-width", 1.2);
    svg.append("path").attr("d", "M" + px + "," + tip + "L" + (px + s * 21) + "," + tip + "L" + px + "," + (tip + s * 7.5) + "Z")
        .attr("fill", red);
    if (s > 0) svg.append("rect").attr("x", px - 2).attr("y", mid - 3).attr("width", 4).attr("height", 4)
        .attr("fill", "#fff").attr("stroke", red);
    var lab = svg.append("text").attr("y", s > 0 ? mid - 12 : mid + 21).text(p.name);
    if (s > 0) lab.attr("x", px + 19.5); else lab.attr("x", px - 22.5).attr("text-anchor", "end");
});
terminators.forEach(function(t) {
    var a = x(t.start), b = x(t.end), s = t.strand;
    var y0 = s > 0 ? 353.3 : 371.7;
    svg.append("rect").attr("x", a).attr("y", y0).attr("width", b - a).attr("height", 8.4).attr("fill", red);
    var sx = s > 0 ? b : a;
    svg.append("line").attr("x1", sx).attr("x2", sx).attr("y1", mid).attr("y2", s > 0 ? y0 + 8.4 : y0)
        .attr("stroke", red).attr("stroke-width", 1.2);
    var lab = svg.append("text").attr("y", s > 0 ? 361.5 : 380).text(t.name);
    if (s > 0) lab.attr("x", a - 1.5).attr("text-anchor", "end"); else lab.attr("x", b);
});

// expression panels
function exprPanel(base, shapes, outliers, black) {
    var y = d3.scaleLinear().domain([0, 12]).range([base, base - 60]);
    var ln = d3.line().x(d => x(d[0])).y(d => y(d[1]));
    var g = svg.append("g");
    exprLevels.forEach(function(lv, i) {
        var shape = shapes[i % 2];
        g.append("path").attr("d", ln(shape.map(d => [d[0], d[1] + lv])))
            .attr("fill", "none").attr("stroke", exprColors[i]).attr("stroke-width", 1.1);
    });
    outliers.forEach(function(o) {
        g.append("path").attr("d", ln(o[0])).attr("fill", "none").attr("stroke", o[1]).attr("stroke-width", 1.1);
    });
    g.append("path").attr("d", ln(black)).attr("fill", "none").attr("stroke", "#000").attr("stroke-width", 1.1);
    exprThresholds.forEach(function(t) {
        g.append("line").attr("x1", X0).attr("x2", X1).attr("y1", y(t)).attr("y2", y(t))
            .attr("stroke", "#000").attr("stroke-width", 1.3);
    });
}
exprPanel(510, [plusShape1, plusShape2], [[plusOlive, "#9c7a2a"], [plusLightBlue, "#6cb4ee"]], plusBlack);
exprPanel(588, [minusShape1, minusShape2], [[minusLightBlue, "#6cb4ee"]], minusBlack);

// tiling panels
function tilingPanel(base, color, colored, refs) {
    var y = d3.scaleLinear().domain([0, 12]).range([base, base - 60]);
    var ln = d3.line().x(d => x(d[0])).y(d => y(d[1]));
    tilingThresholds.forEach(function(t) {
        svg.append("line").attr("x1", X0).attr("x2", X1).attr("y1", y(t)).attr("y2", y(t))
            .attr("stroke", "#a05f5f").attr("stroke-width", 1.3);
    });
    refs.forEach(function(s) {
        svg.append("path").attr("d", ln(s)).attr("fill", "none").attr("stroke", "#000").attr("stroke-width", 1.5);
    });
    colored.forEach(function(s) {
        svg.append("path").attr("d", ln(s)).attr("fill", "none").attr("stroke", color).attr("stroke-width", 1.5);
    });
}
function callBars(calls, y0, color) {
    calls.forEach(function(c) {
        svg.append("rect").attr("x", x(c[0])).attr("y", y0).attr("width", x(c[1]) - x(c[0])).attr("height", 10.5).attr("fill", color);
        svg.append("text").attr("x", (x(c[0]) + x(c[1])) / 2).attr("y", y0 - 3.5).attr("text-anchor", "middle")
            .style("font-size", "8px").text(c[2]);
    });
}
tilingPanel(670, "#0a8c0a", [greenPlus, greenPlus2], [greenPlusRef, greenPlusRef2]);
tilingPanel(748, "#0a8c0a", [greenMinus], [greenMinusRef]);
callBars(greenCalls, 773, "#008c00");

tilingPanel(928, "#1a3ad6", [bluePlus, bluePlus2], [bluePlusRef, bluePlusRef2]);
tilingPanel(1005, "#1a3ad6", [blueMinus, blueMinus2], [blueMinusRef]);
callBars(blueCalls, 1030, "#0022cc");

tilingPanel(1185, "#cc0000", [redPlus], [redPlusRef]);
tilingPanel(1262, "#cc0000", [redMinus], [redMinusRef]);

tilingPanel(1443, "#c8c800", [yellowPlus], [yellowPlusRef]);
tilingPanel(1520, "#c8c800", [yellowMinus], [yellowMinusRef]);
</script>
</body>
</html>
